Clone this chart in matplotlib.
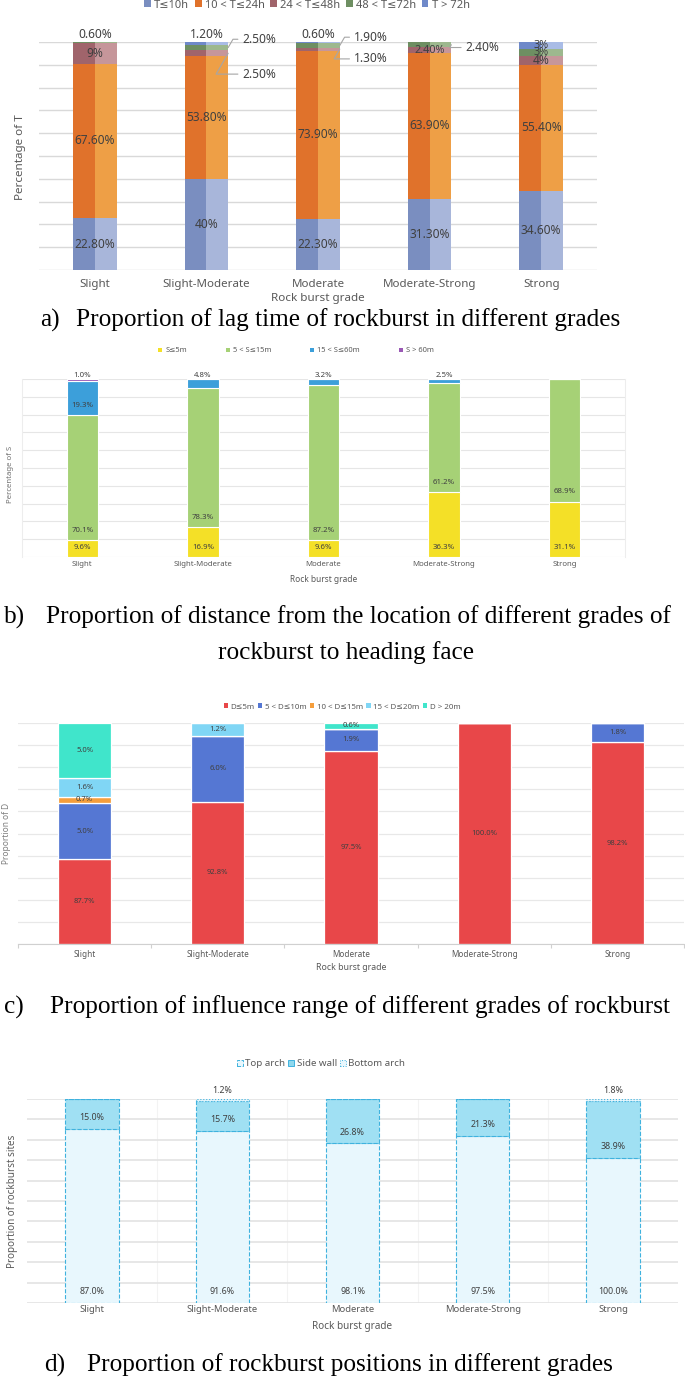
import numpy as np
import matplotlib
matplotlib.use("Agg")
import matplotlib.pyplot as plt
from matplotlib.patches import Patch

plt.rcParams['font.family'] = ['Noto Sans', 'DejaVu Sans']

W, H, DPI = 685, 1377, 100

grades = ["Slight", "Slight-Moderate", "Moderate", "Moderate-Strong", "Strong"]

# ---------------- panel a data: lag time ----------------
lag_names = ["T≤10h", "10 < T≤24h", "24 < T≤48h", "48 < T≤72h", "T > 72h"]
lag_t10 = [22.8, 40.0, 22.3, 31.3, 34.6]
lag_t24 = [67.6, 53.8, 73.9, 63.9, 55.4]
lag_t48 = [9.0, 2.5, 1.3, 2.4, 4.0]
lag_t72 = [0.6, 2.5, 1.9, 2.4, 3.0]
lag_tgt72 = [0.0, 1.2, 0.6, 0.0, 3.0]
lag_text_t10 = ["22.80%", "40%", "22.30%", "31.30%", "34.60%"]
lag_text_t24 = ["67.60%", "53.80%", "73.90%", "63.90%", "55.40%"]
lag_text_t48 = ["9%", "2.50%", "1.30%", "2.40%", "4%"]
lag_text_t72 = ["0.60%", "2.50%", "1.90%", "2.40%", "3%"]
lag_text_tgt72 = ["", "1.20%", "0.60%", "", "3%"]

# ---------------- panel b data: distance to heading face ----------------
dist_names = ["S≤5m", "5 < S≤15m", "15 < S≤60m", "S > 60m"]
dist_s5 = [9.6, 16.9, 9.6, 36.3, 31.1]
dist_s15 = [70.1, 78.3, 87.2, 61.2, 68.9]
dist_s60 = [19.3, 4.8, 3.2, 2.5, 0.0]
dist_sgt60 = [1.0, 0.0, 0.0, 0.0, 0.0]
dist_text_s5 = ["9.6%", "16.9%", "9.6%", "36.3%", "31.1%"]
dist_text_s15 = ["70.1%", "78.3%", "87.2%", "61.2%", "68.9%"]
dist_text_s60 = ["19.3%", "4.8%", "3.2%", "2.5%", ""]
dist_text_sgt60 = ["1.0%", "", "", "", ""]

# ---------------- panel c data: influence range ----------------
rng_names = ["D≤5m", "5 < D≤10m", "10 < D≤15m", "15 < D≤20m", "D > 20m"]
rng_d5 = [38.5, 64.3, 87.5, 100.0, 91.3]
rng_d10 = [25.2, 30.0, 9.8, 0.0, 8.7]
rng_d15 = [3.0, 0.0, 0.0, 0.0, 0.0]
rng_d20 = [8.6, 5.7, 0.0, 0.0, 0.0]
rng_dgt20 = [24.7, 0.0, 2.7, 0.0, 0.0]
rng_text_d5 = ["87.7%", "92.8%", "97.5%", "100.0%", "98.2%"]
rng_text_d10 = ["5.0%", "6.0%", "1.9%", "", "1.8%"]
rng_text_d15 = ["0.7%", "", "", "", ""]
rng_text_d20 = ["1.6%", "1.2%", "", "", ""]
rng_text_dgt20 = ["5.0%", "", "0.6%", "", ""]

# ---------------- panel d data: rockburst positions ----------------
pos_names = ["Top arch", "Side wall", "Bottom arch"]
pos_top = [85.3, 84.5, 78.3, 81.9, 71.2]
pos_side = [14.7, 14.5, 21.7, 18.1, 27.8]
pos_bottom = [0.0, 1.0, 0.0, 0.0, 1.0]
pos_text_top = ["87.0%", "91.6%", "98.1%", "97.5%", "100.0%"]
pos_text_side = ["15.0%", "15.7%", "26.8%", "21.3%", "38.9%"]
pos_text_bottom = ["", "1.2%", "", "", "1.8%"]

captions = [
    ("a)", "Proportion of lag time of rockburst in different grades"),
    ("b)", "Proportion of distance from the location of different grades of"),
    ("c)", "Proportion of influence range of different grades of rockburst"),
    ("d)", "Proportion of rockburst positions in different grades"),
]
caption_b2 = "rockburst to heading face"

# ---------------- helpers ----------------
fig = plt.figure(figsize=(W / DPI, H / DPI), dpi=DPI)
fig.patch.set_facecolor("white")


def fx(px):
    return px / W


def fy(py):
    return 1 - py / H


def add_ax(x0, ytop, x1, ybot):
    return fig.add_axes([x0 / W, 1 - ybot / H, (x1 - x0) / W, (ybot - ytop) / H])


def base_axes(ax, gridc="#D9D9D9", glw=0.9):
    ax.set_xlim(-0.5, 4.5)
    ax.set_ylim(0, 100)
    ax.set_yticks(np.arange(0, 101, 10))
    ax.set_yticklabels([])
    ax.yaxis.grid(True, color=gridc, lw=glw)
    ax.set_axisbelow(True)
    for s in ax.spines.values():
        s.set_visible(False)
    ax.tick_params(axis="y", length=0)
    ax.set_xticks(range(len(grades)))


def legend(handles, labels, cx, cy, fs, color, colsp, hlen=0.7, pad=0.4):
    lg = fig.legend(handles, labels, loc="center", bbox_to_anchor=(fx(cx), fy(cy)),
                    ncol=len(labels), frameon=False, fontsize=fs, handlelength=hlen,
                    handleheight=hlen, handletextpad=pad, columnspacing=colsp,
                    borderaxespad=0, borderpad=0)
    for t in lg.get_texts():
        t.set_color(color)
    return lg


x = np.arange(len(grades))

# ================= panel a =================
axa = add_ax(39, 42, 597, 270)
base_axes(axa, gridc="#D9D9D9", glw=1.0)
axa.set_xticklabels(grades, fontsize=8.3, color="#595959")
axa.tick_params(axis="x", length=0, pad=6.5)
bwa = 0.39
a_vals = [lag_t10, lag_t24, lag_t48, lag_t72, lag_tgt72]
a_texts = [lag_text_t10, lag_text_t24, lag_text_t48, lag_text_t72, lag_text_tgt72]
a_dark = ["#7A8EC0", "#E0722B", "#A0646B", "#6E8F62", "#6F89C9"]
a_light = ["#A8B6DA", "#EE9F46", "#C6969A", "#9DB88E", "#A9BCE6"]
bottom = np.zeros(5)
seg_bounds = []
for vals, dk, lt in zip(a_vals, a_dark, a_light):
    v = np.array(vals)
    axa.bar(x - bwa / 4, v, bwa / 2, bottom=bottom, color=dk, lw=0)
    axa.bar(x + bwa / 4, v, bwa / 2, bottom=bottom, color=lt, lw=0)
    seg_bounds.append((bottom.copy(), v))
    bottom = bottom + v

# label placement style: 'c' centre, 't' above bar, 'r' right with leader line (dy in px)
a_place = {
    (2, 1): ("r", -15), (3, 1): ("r", 6),
    (2, 2): ("r", -7), (3, 2): ("r", 6),
    (3, 3): ("r", -2),
    (3, 0): ("t", 0), (4, 1): ("t", 0), (4, 2): ("t", 0),
}
for si, texts in enumerate(a_texts):
    b0, v = seg_bounds[si]
    for gi, t in enumerate(texts):
        if not t:
            continue
        mode, dy = a_place.get((si, gi), ("c", 0))
        yc = b0[gi] + v[gi] / 2
        fs = 8.6 if v[gi] > 3.5 or mode != "c" else 7.8
        if mode == "c":
            axa.text(gi, yc, t, ha="center", va="center", fontsize=fs, color="#404040")
        elif mode == "t":
            axa.annotate(t, (gi, b0[gi] + v[gi]), xytext=(0, 0.5), textcoords="offset points",
                         ha="center", va="bottom", fontsize=fs, color="#404040")
        else:
            axa.annotate(t, (gi + bwa / 2, yc), xytext=(10, dy), textcoords="offset points",
                         ha="left", va="center", fontsize=fs, color="#404040",
                         arrowprops=dict(arrowstyle="-", color="#A6A6A6", lw=0.8,
                                         shrinkA=1, shrinkB=0,
                                         connectionstyle="angle,angleA=0,angleB=60,rad=0"))
fig.text(fx(21), fy(157), "Percentage of T", rotation=90, ha="center", va="center",
         fontsize=8.4, color="#595959")
fig.text(fx(318), fy(299), "Rock burst grade", ha="center", va="center",
         fontsize=8.4, color="#595959")
legend([Patch(facecolor=c, edgecolor="none") for c in a_dark], lag_names, 307, 5,
       8.0, "#595959", 0.5, hlen=0.6, pad=0.3)

# ================= panel b =================
axb = add_ax(22, 379, 625, 557)
base_axes(axb, gridc="#E6E6E6", glw=0.8)
for s in ("left", "right"):
    axb.spines[s].set_visible(True)
    axb.spines[s].set_color("#EDEDED")
    axb.spines[s].set_linewidth(0.8)
axb.set_xticklabels(grades, fontsize=5.6, color="#595959")
axb.tick_params(axis="x", length=0, pad=2.6)
bwb = 0.26
b_vals = [dist_s5, dist_s15, dist_s60, dist_sgt60]
b_texts = [dist_text_s5, dist_text_s15, dist_text_s60, dist_text_sgt60]
b_cols = ["#F4E027", "#A6D176", "#3C9FDA", "#9A58B5"]
bottom = np.zeros(5)
for vals, texts, col in zip(b_vals, b_texts, b_cols):
    v = np.array(vals)
    axb.bar(x, v, bwb, bottom=bottom, color=col, edgecolor="white", lw=0.8)
    for gi, t in enumerate(texts):
        if not t:
            continue
        if v[gi] < 6:
            axb.annotate(t, (gi, 100), xytext=(0, 0.3), textcoords="offset points",
                         ha="center", va="bottom", fontsize=5.6, color="#404040")
        else:
            axb.annotate(t, (gi, bottom[gi]), xytext=(0, 7), textcoords="offset points",
                         ha="center", va="center", fontsize=5.6, color="#404040")
    bottom = bottom + v
fig.text(fx(11), fy(474), "Percentage of S", rotation=90, ha="center", va="center",
         fontsize=5.6, color="#707070")
fig.text(fx(324), fy(579), "Rock burst grade", ha="center", va="center",
         fontsize=6.0, color="#595959")
legend([Patch(facecolor=c, edgecolor="none") for c in b_cols], dist_names, 296, 351,
       5.4, "#595959", 5.2, hlen=0.55, pad=0.4)

# ================= panel c =================
axc = add_ax(18, 723, 684, 944)
base_axes(axc, gridc="#E8E8E8", glw=0.9)
axc.spines["bottom"].set_visible(True)
axc.spines["bottom"].set_color("#D0D0D0")
axc.set_xticklabels(grades, fontsize=5.9, color="#595959")
axc.set_xticks(np.arange(-0.5, 5.0, 1.0), minor=True)
axc.tick_params(axis="x", which="major", length=0, pad=4.0)
axc.tick_params(axis="x", which="minor", length=3, color="#D0D0D0", width=0.8)
bwc = 0.4
c_vals = [rng_d5, rng_d10, rng_d15, rng_d20, rng_dgt20]
c_texts = [rng_text_d5, rng_text_d10, rng_text_d15, rng_text_d20, rng_text_dgt20]
c_cols = ["#E84749", "#5577D3", "#F59E3C", "#80D6F5", "#40E5CB"]
bottom = np.zeros(5)
for vals, texts, col in zip(c_vals, c_texts, c_cols):
    v = np.array(vals)
    axc.bar(x, v, bwc, bottom=bottom, color=col, edgecolor="white", lw=0.9)
    for gi, t in enumerate(texts):
        if t:
            axc.text(gi, bottom[gi] + v[gi] / 2, t, ha="center", va="center",
                     fontsize=5.5, color="#404040")
    bottom = bottom + v
fig.text(fx(7), fy(833), "Proportion of D", rotation=90, ha="center", va="center",
         fontsize=6.0, color="#7F7F7F")
fig.text(fx(351), fy(967), "Rock burst grade", ha="center", va="center",
         fontsize=6.3, color="#595959")
legend([Patch(facecolor=c, edgecolor="none") for c in c_cols], rng_names, 342, 707,
       5.7, "#595959", 0.45, hlen=0.55, pad=0.3)

# ================= panel d =================
axd = add_ax(27, 1099, 678, 1303)
base_axes(axd, gridc="#E3E3E3", glw=1.2)
for xb in np.arange(0.5, 4.0, 1.0):
    axd.axvline(xb, color="#F3F3F3", lw=0.8, zorder=0)
axd.set_xticklabels(grades, fontsize=6.8, color="#595959")
axd.tick_params(axis="x", length=0, pad=1.8)
bwd = 0.41
d_vals = [pos_top, pos_side, pos_bottom]
d_texts = [pos_text_top, pos_text_side, pos_text_bottom]
d_face = ["#E8F7FD", "#A0E0F3", "#E8F7FD"]
d_ls = ["--", "--", ":"]
edge = "#3FB2DE"
bottom = np.zeros(5)
for vals, texts, fc, ls in zip(d_vals, d_texts, d_face, d_ls):
    v = np.array(vals)
    axd.bar(x, v, bwd, bottom=bottom, facecolor=fc, edgecolor=edge, lw=0.8, linestyle=ls)
    for gi, t in enumerate(texts):
        if not t:
            continue
        if v[gi] < 5:
            axd.annotate(t, (gi, 100), xytext=(0, 3), textcoords="offset points",
                         ha="center", va="bottom", fontsize=6.4, color="#404040")
        else:
            axd.annotate(t, (gi, bottom[gi]), xytext=(0, 8), textcoords="offset points",
                         ha="center", va="center", fontsize=6.4, color="#404040")
    bottom = bottom + v
fig.text(fx(13), fy(1201), "Proportion of rockburst sites", rotation=90, ha="center",
         va="center", fontsize=7.1, color="#595959")
fig.text(fx(352), fy(1326), "Rock burst grade", ha="center", va="center",
         fontsize=7.2, color="#595959")
legend([Patch(facecolor=d_face[0], edgecolor=edge, linestyle="--", lw=0.7),
        Patch(facecolor="#8FD8EE", edgecolor=edge, lw=0.7),
        Patch(facecolor=d_face[2], edgecolor=edge, linestyle=":", lw=0.7)],
       pos_names, 321, 1064, 7.0, "#595959", 0.3, hlen=0.6, pad=0.25)

# ================= captions =================
serif = ["Liberation Serif", "DejaVu Serif"]
CFS = 18.2
cap_pos = [(40, 76, 320), (4, 46, 617), (4, 50, 1007), (44, 87, 1365)]
for (lab, body), (xl, xb, yc) in zip(captions, cap_pos):
    fig.text(fx(xl), fy(yc), lab, ha="left", va="center", fontsize=CFS, family=serif)
    fig.text(fx(xb), fy(yc), body, ha="left", va="center", fontsize=CFS, family=serif)
fig.text(fx(346), fy(653), caption_b2, ha="center", va="center", fontsize=CFS, family=serif)

fig.savefig("out.png", dpi=DPI)
